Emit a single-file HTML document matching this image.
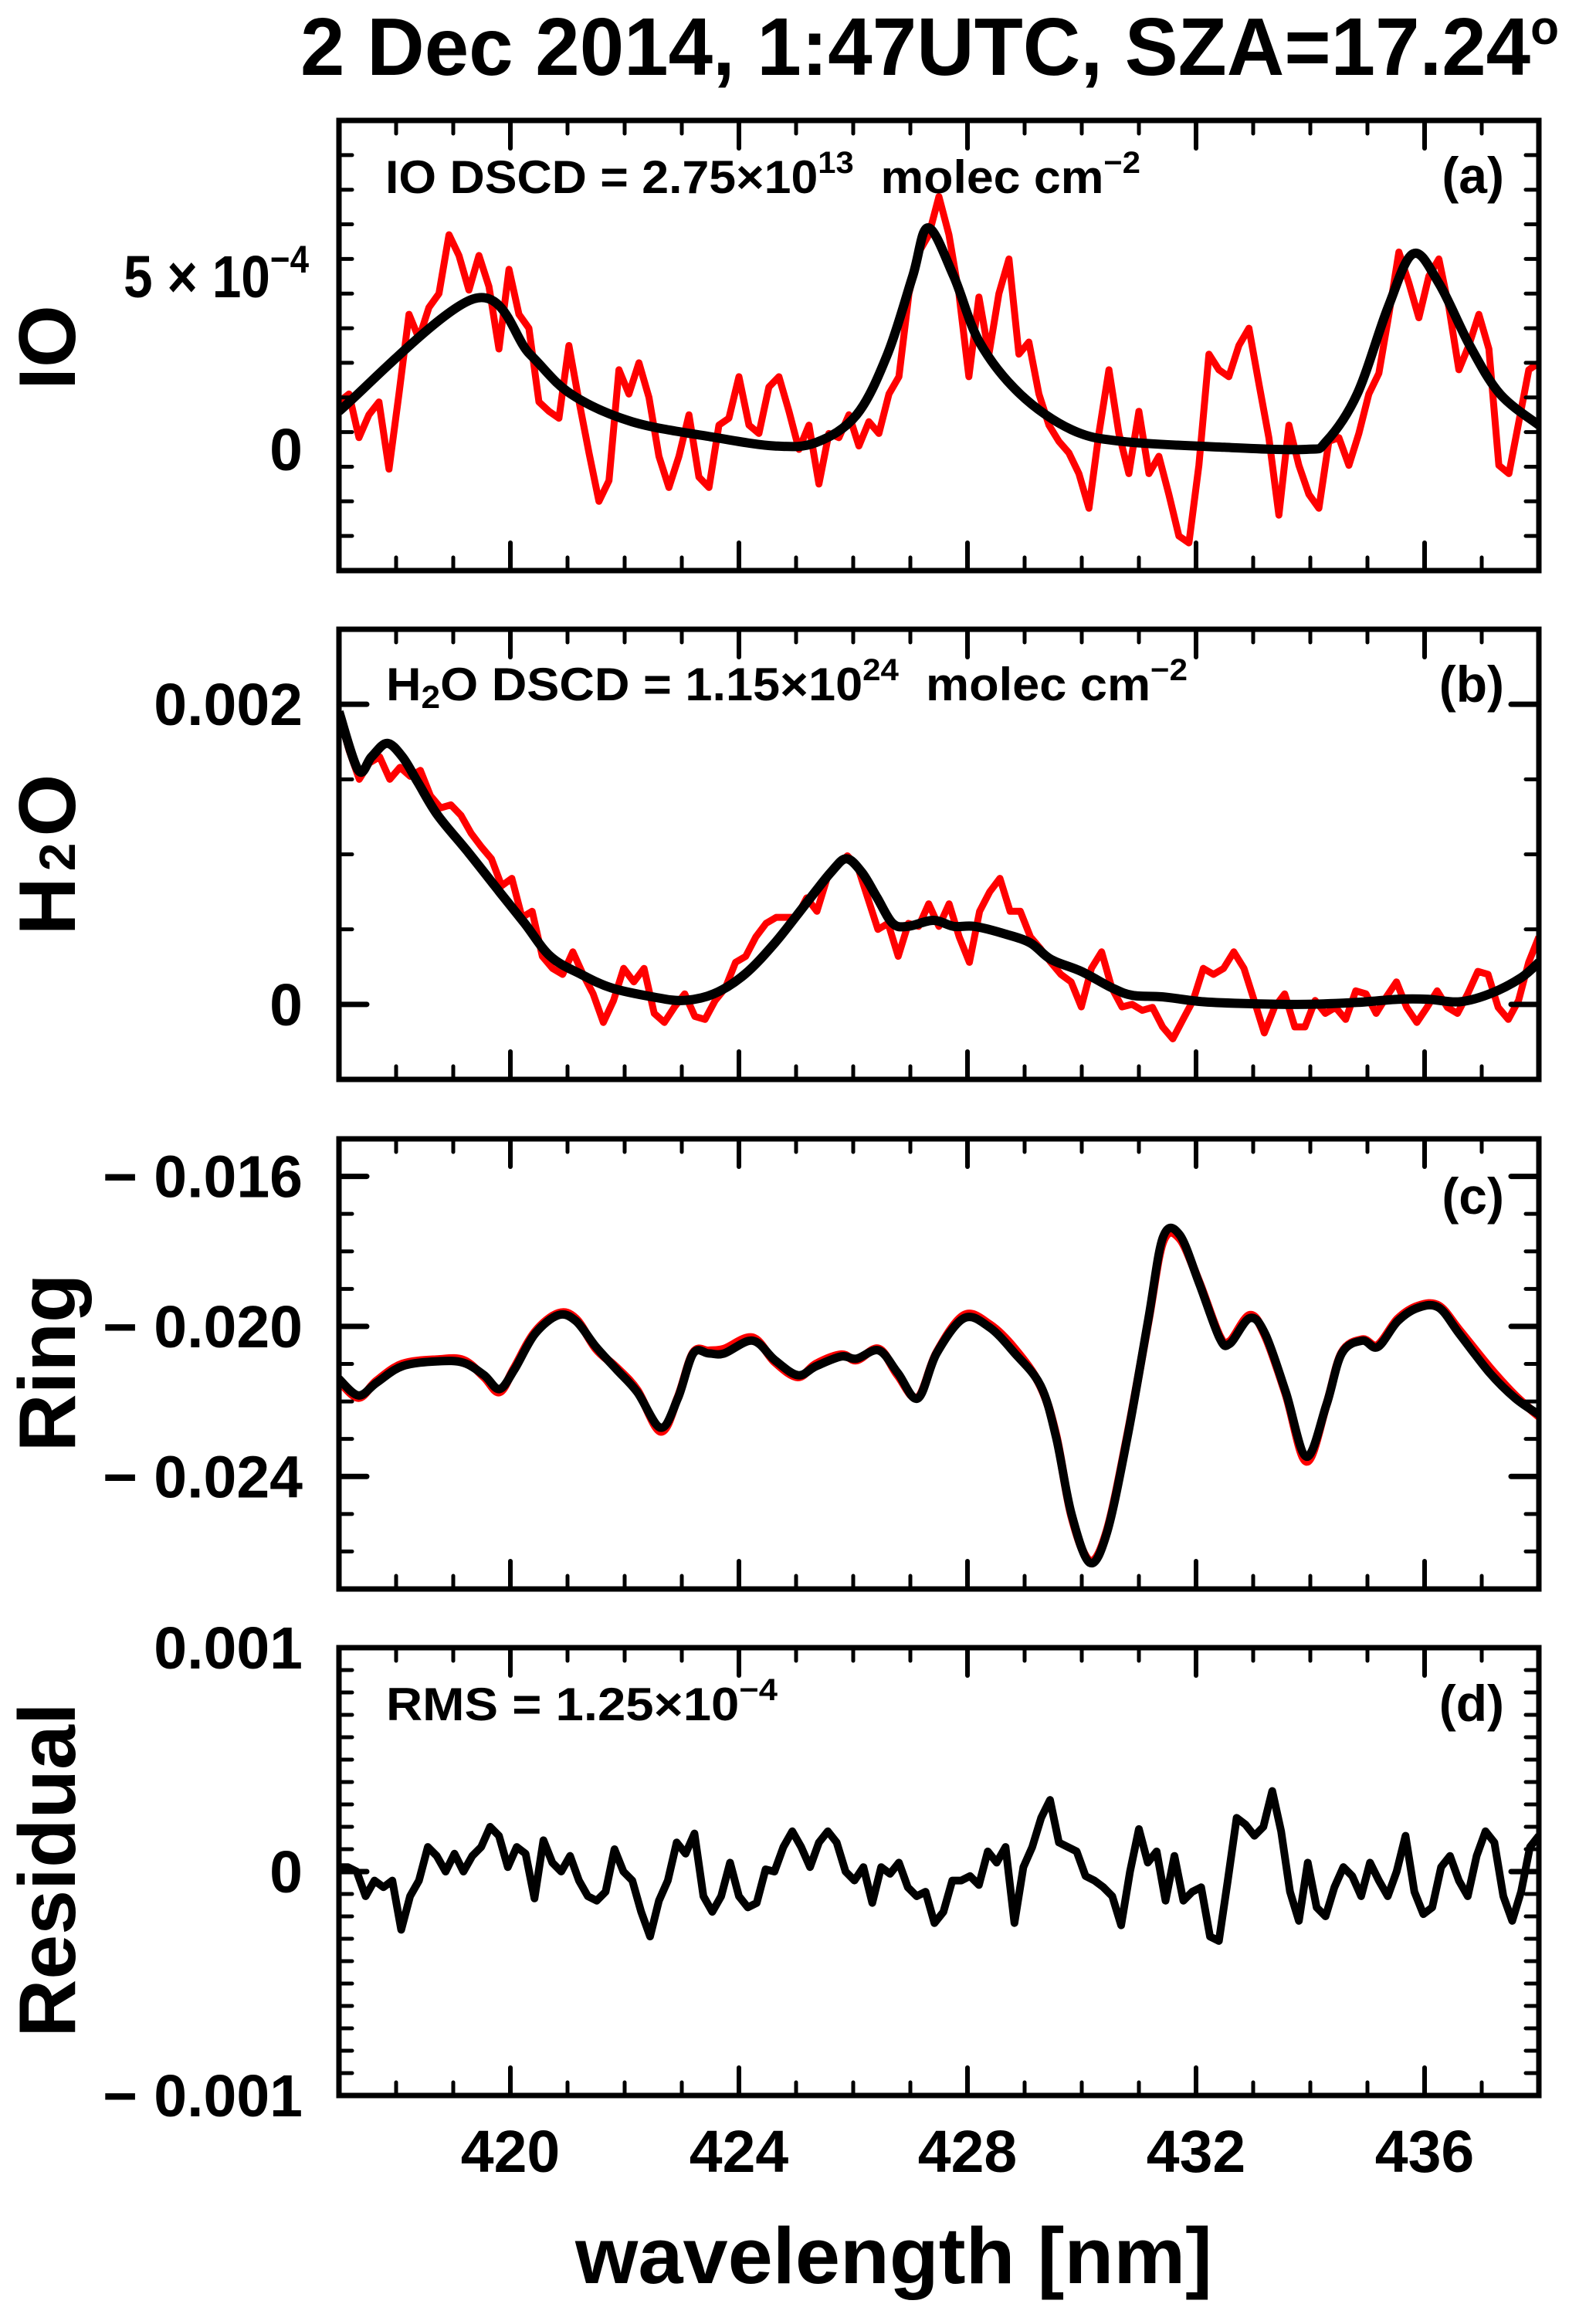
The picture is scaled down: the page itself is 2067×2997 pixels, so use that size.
<!DOCTYPE html>
<html><head><meta charset="utf-8"><title>DOAS fit 2 Dec 2014</title>
<style>
html,body{margin:0;padding:0;background:#fff;}
svg{display:block;font-family:"Liberation Sans",Arial,sans-serif;font-weight:bold;}
</style></head>
<body>
<svg id="chart" xmlns="http://www.w3.org/2000/svg" width="2067" height="2997" viewBox="0 0 2067 2997">
<rect x="0" y="0" width="2067" height="2997" fill="#fff"/>
<text x="389" y="97" font-size="106" textLength="1630" lengthAdjust="spacingAndGlyphs">2 Dec 2014, 1:47UTC, SZA=17.24<tspan font-size="62" dy="-40">o</tspan></text>
<g id="plots"></g>
<text x="745" y="2957" font-size="103" textLength="825" lengthAdjust="spacingAndGlyphs">wavelength [nm]</text>
</svg>
<script>
// ---------- data (wavelength grid in nm) ----------
const xTicksMajor = [420, 424, 428, 432, 436];
const xTickLabels = ["420", "424", "428", "432", "436"];

// Panel (a) IO, values in units of 1e-4
const ioRedStart = 417, ioRedEnd = 438;
const ioRed = [1.37,1.6,0.34,1.0,1.37,-0.57,1.6,3.9,3.2,4.1,4.5,6.2,5.6,4.6,5.6,4.7,2.9,5.2,3.9,3.5,1.37,1.1,0.9,3.0,1.4,-0.1,-1.5,-0.9,2.3,1.6,2.5,1.5,-0.2,-1.1,-0.2,1.0,-0.8,-1.1,0.7,0.9,2.1,0.7,0.46,1.8,2.1,1.1,0,0.7,-1.0,0.46,0.34,1.0,0.1,0.8,0.46,1.6,2.1,4.5,5.7,6.2,7.3,6.2,4.5,2.1,4.4,2.75,4.5,5.5,2.75,3.1,1.6,0.7,0.23,-0.1,-0.7,-1.7,0.46,2.3,0.46,-0.7,1.1,-0.7,-0.2,-1.3,-2.5,-2.7,-0.46,2.75,2.3,2.1,3.0,3.5,1.9,0.34,-1.9,0.7,-0.46,-1.3,-1.7,0.23,0.34,-0.46,0.46,1.6,2.2,3.9,5.7,4.8,3.8,5.0,5.5,4.1,2.3,3.0,3.9,2.9,-0.46,-0.7,0.8,2.3,2.5];
const ioFitWl = [417,419.36,420.34,421.06,422.13,423.56,424.63,425.35,426.06,426.6,427.04,427.31,427.76,428.21,428.92,429.82,430.71,432.5,433.93,434.28,434.82,435.36,435.8,436.25,436.79,437.32,438];
const ioFit = [1.1,4.35,2.75,1.6,0.8,0.35,0.1,0.2,1.0,2.75,5.0,6.4,5.0,3.1,1.6,0.57,0.23,0.06,0,0.23,1.6,4.1,5.65,4.8,3.0,1.6,0.7];

// Panel (b) H2O, values in units of 1e-4
const h2oRedStart = 417, h2oRedEnd = 438;
const h2oRed = [19.3,16.9,15,16.1,16.5,15,15.8,15.2,15.6,13.9,13.1,13.3,12.6,11.4,10.5,9.7,7.9,8.4,5.8,6.2,3.2,2.4,2.0,3.5,2.0,0.7,-1.2,0.26,2.4,1.5,2.4,-0.6,-1.2,-0.17,0.7,-0.8,-1.0,0.26,1.1,2.8,3.2,4.5,5.4,5.8,5.8,5.8,7.1,6.2,8.4,9.2,9.9,9.2,7.1,5.0,5.4,3.2,5.4,5.2,6.7,5.2,6.7,4.5,2.8,6.2,7.5,8.4,6.2,6.2,4.5,3.7,2.8,2.0,1.5,-0.17,2.4,3.5,1.1,-0.17,0,-0.4,-0.2,-1.5,-2.3,-1.0,0.26,2.4,2.0,2.4,3.5,2.4,0.26,-1.9,-0.2,0.7,-1.5,-1.5,0.26,-0.6,-0.2,-1.0,0.9,0.7,-0.6,0.5,1.5,-0.2,-1.2,-0.2,0.9,-0.2,-0.6,0.7,2.2,2.0,-0.2,-1.0,0.26,2.8,4.5];
const h2oFitWl = [417,417.34,417.57,417.84,418.11,418.38,418.73,419.27,419.81,420.25,420.7,421.24,421.77,422.49,423.02,423.56,424.1,424.63,425.17,425.61,425.88,426.15,426.42,426.69,426.96,427.4,427.76,428.12,428.65,429.1,429.46,429.99,430.53,430.89,431.42,432.14,433.03,433.93,434.82,435.53,436.07,436.61,437.14,437.68,438];
const h2oFit = [19.5,15.6,16.5,17.4,16.5,14.8,12.6,10.1,7.5,5.4,3.2,2.0,1.1,0.5,0.26,0.7,2.0,4.1,6.7,8.8,9.7,8.8,7.1,5.4,5.2,5.6,5.2,5.2,4.7,4.1,3.0,2.2,1.1,0.6,0.5,0.17,0.04,0,0.13,0.34,0.34,0.17,0.7,1.75,2.8];

// Panel (c) Ring, values in units of 1e-3
const ringWl = [417,417.34,417.66,418.11,418.73,419.18,419.54,419.81,420.07,420.43,420.84,421.15,421.5,421.86,422.22,422.63,422.93,423.2,423.47,423.74,424.24,424.63,425.03,425.35,425.79,426.06,426.45,426.78,427.13,427.46,427.94,428.39,428.83,429.28,429.55,429.82,430.14,430.44,430.8,431.16,431.42,431.71,432.05,432.41,432.59,432.94,433.21,433.57,433.93,434.28,434.55,434.91,435.18,435.53,435.89,436.25,436.61,437.14,437.59,438];
const ringFit = [-21.4,-21.84,-21.5,-21.06,-20.93,-20.97,-21.3,-21.67,-21.15,-20.2,-19.7,-19.86,-20.55,-21.15,-21.75,-22.7,-21.92,-20.72,-20.72,-20.72,-20.38,-20.9,-21.3,-21.06,-20.8,-20.86,-20.64,-21.24,-21.92,-20.72,-19.78,-20.03,-20.72,-21.58,-22.95,-25.0,-26.3,-25.5,-22.95,-19.86,-17.63,-17.55,-18.83,-20.3,-20.46,-19.78,-20.2,-21.75,-23.47,-22.1,-20.72,-20.38,-20.55,-19.86,-19.5,-19.5,-20.2,-21.24,-21.92,-22.35];
const ringMeas = [-21.45,-21.9,-21.45,-21.0,-20.88,-20.9,-21.35,-21.75,-21.1,-20.15,-19.65,-19.8,-20.6,-21.1,-21.7,-22.8,-21.9,-20.7,-20.65,-20.6,-20.3,-20.95,-21.35,-21.0,-20.75,-20.9,-20.6,-21.3,-21.9,-20.7,-19.7,-19.95,-20.6,-21.6,-22.9,-25.05,-26.25,-25.45,-22.9,-19.9,-17.75,-17.65,-18.8,-20.25,-20.4,-19.7,-20.25,-21.8,-23.6,-22.1,-20.7,-20.35,-20.5,-19.8,-19.45,-19.45,-20.1,-21.1,-21.85,-22.4];

// Panel (d) Residual, values in units of 1e-4
const resStart = 417, resEnd = 438;
const residual = [0.2,0.2,0,-1.1,-0.4,-0.7,-0.4,-2.6,-1.1,-0.4,1.1,0.7,0,0.8,0,0.7,1.1,2.0,1.6,0.2,1.1,0.8,-1.2,1.4,0.4,0,0.7,-0.4,-1.1,-1.3,-0.9,1.0,0,-0.4,-1.8,-2.9,-1.3,-0.4,1.3,0.8,1.7,-1.1,-1.8,-1.1,0.4,-1.1,-1.6,-1.4,0.1,0,1.1,1.8,1.1,0.2,1.3,1.8,1.3,0,-0.4,0.2,-1.4,0.2,-0.1,0.4,-0.7,-1.1,-0.9,-2.3,-1.8,-0.4,-0.4,-0.2,-0.6,0.9,0.4,1.1,-2.3,0.2,1.1,2.4,3.2,1.3,1.1,0.9,-0.2,-0.4,-0.7,-1.1,-2.4,0,1.9,0.4,0.9,-1.3,0.7,-1.3,-0.9,-0.7,-2.9,-3.1,-0.4,2.4,2.1,1.6,2.0,3.6,1.8,-0.9,-2.2,0.4,-1.6,-2.0,-0.7,0.2,-0.2,-1.1,0.4,-0.4,-1.1,0,1.6,-0.9,-1.9,-1.6,0.2,0.7,-0.4,-1.1,0.7,1.8,1.3,-1.1,-2.2,-0.9,1.1,1.6];

const panelLetters = ["(a)", "(b)", "(c)", "(d)"];

// ---------- layout ----------
const NS = "http://www.w3.org/2000/svg";
const plots = document.getElementById("plots");
const X0 = 439, X1 = 1993, WMIN = 417, WMAX = 438;
function xScale(w){ return X0 + (w - WMIN) / (WMAX - WMIN) * (X1 - X0); }
function mk(tag, attrs, parent){
  const e = document.createElementNS(NS, tag);
  for (const k in attrs) e.setAttribute(k, attrs[k]);
  (parent || plots).appendChild(e);
  return e;
}
function gridWl(start, end, n){ const a=[]; for(let i=0;i<n;i++) a.push(start + i*(end-start)/(n-1)); return a; }
function linePath(xs, ys){
  let d=""; for(let i=0;i<xs.length;i++) d += (i?"L":"M") + xs[i].toFixed(1) + "," + ys[i].toFixed(1);
  return d;
}
function smoothPath(xs, ys){
  let d = "M" + xs[0].toFixed(1) + "," + ys[0].toFixed(1);
  for (let i=0;i<xs.length-1;i++){
    const x0 = xs[Math.max(i-1,0)], y0 = ys[Math.max(i-1,0)];
    const x1 = xs[i], y1 = ys[i], x2 = xs[i+1], y2 = ys[i+1];
    const x3 = xs[Math.min(i+2,xs.length-1)], y3 = ys[Math.min(i+2,xs.length-1)];
    const c1x = x1 + (x2-x0)/6, c1y = y1 + (y2-y0)/6;
    const c2x = x2 - (x3-x1)/6, c2y = y2 - (y3-y1)/6;
    d += "C"+c1x.toFixed(1)+","+c1y.toFixed(1)+" "+c2x.toFixed(1)+","+c2y.toFixed(1)+" "+x2.toFixed(1)+","+y2.toFixed(1);
  }
  return d;
}

const panels = [
  {key:"io", top:156, bot:739, ymin:-3.5e-4, ymax:9.5e-4, minor:1e-4, majors:[0,5e-4], title:"IO", titleY:450},
  {key:"h2o", top:815, bot:1398, ymin:-5e-4, ymax:2.5e-3, minor:5e-4, majors:[0,0.002], title:"H2O", titleY:1107},
  {key:"ring", top:1475, bot:2058, ymin:-0.027, ymax:-0.015, minor:0.001, majors:[-0.016,-0.020,-0.024], title:"Ring", titleY:1765},
  {key:"residual", top:2134, bot:2714, ymin:-0.001, ymax:0.001, minor:1e-4, majors:[-0.001,0,0.001], title:"Residual", titleY:2422}
];

panels.forEach(function(p, pi){
  const g = mk("g", {});
  
  
  const ys = function(v){ return p.bot - (v - p.ymin)/(p.ymax - p.ymin)*(p.bot - p.top); };

  const cp = mk("clipPath", {id:"clip"+pi}, g);
  mk("rect", {x:X0, y:p.top, width:X1-X0, height:p.bot-p.top}, cp);
  const dg = mk("g", {"clip-path":"url(#clip"+pi+")"}, g);

  if (p.key === "io"){
    const wl = gridWl(ioRedStart, ioRedEnd, ioRed.length);
    const r = mk("path", {d:linePath(wl.map(xScale), ioRed.map(v=>ys(v*1e-4))), fill:"none", stroke:"#ff0000", "stroke-width":9, "stroke-linejoin":"round"}, dg);
    
    
    const b = mk("path", {d:smoothPath(ioFitWl.map(xScale), ioFit.map(v=>ys(v*1e-4))), fill:"none", stroke:"#000", "stroke-width":12, "stroke-linejoin":"round"}, dg);
    
    
  } else if (p.key === "h2o"){
    const wl = gridWl(h2oRedStart, h2oRedEnd, h2oRed.length);
    const r = mk("path", {d:linePath(wl.map(xScale), h2oRed.map(v=>ys(v*1e-4))), fill:"none", stroke:"#ff0000", "stroke-width":9, "stroke-linejoin":"round"}, dg);
    
    
    const b = mk("path", {d:smoothPath(h2oFitWl.map(xScale), h2oFit.map(v=>ys(v*1e-4))), fill:"none", stroke:"#000", "stroke-width":12, "stroke-linejoin":"round"}, dg);
    
    
  } else if (p.key === "ring"){
    const r = mk("path", {d:smoothPath(ringWl.map(xScale), ringMeas.map(v=>ys(v*1e-3))), fill:"none", stroke:"#ff0000", "stroke-width":11, "stroke-linejoin":"round"}, dg);
    
    
    const b = mk("path", {d:smoothPath(ringWl.map(xScale), ringFit.map(v=>ys(v*1e-3))), fill:"none", stroke:"#000", "stroke-width":11, "stroke-linejoin":"round"}, dg);
    
    
  } else {
    const wl = gridWl(resStart, resEnd, residual.length);
    const b = mk("path", {d:linePath(wl.map(xScale), residual.map(v=>ys(v*1e-4))), fill:"none", stroke:"#000", "stroke-width":10, "stroke-linejoin":"round"}, dg);
    
    
  }

  for (let w = 418; w <= 437; w++){
    const isMaj = xTicksMajor.indexOf(w) >= 0;
    const L = isMaj ? 36 : 17, xx = xScale(w);
    mk("line", {x1:xx, x2:xx, y1:p.top, y2:p.top+L, stroke:"#000", "stroke-width":isMaj?6:5, "stroke-linecap":"round"}, g);
    mk("line", {x1:xx, x2:xx, y1:p.bot, y2:p.bot-L, stroke:"#000", "stroke-width":isMaj?6:5, "stroke-linecap":"round"}, g);
  }
  const nMin = Math.round((p.ymax - p.ymin)/p.minor);
  for (let i=1;i<nMin;i++){
    const v = p.ymin + i*p.minor;
    const isMaj = p.majors.some(m=>Math.abs(m-v) < p.minor*0.01);
    const L = isMaj ? 36 : 17, yy = ys(v);
    mk("line", {x1:X0, x2:X0+L, y1:yy, y2:yy, stroke:"#000", "stroke-width":isMaj?7:5, "stroke-linecap":"round"}, g);
    mk("line", {x1:X1, x2:X1-L, y1:yy, y2:yy, stroke:"#000", "stroke-width":isMaj?7:5, "stroke-linecap":"round"}, g);
  }
  const fr = mk("rect", {x:X0, y:p.top, width:X1-X0, height:p.bot-p.top, fill:"none", stroke:"#000", "stroke-width":7}, g);
  
  

  p.majors.forEach(function(m){
    const t = mk("text", {x:392, y:ys(m)+27, "font-size":77, "text-anchor":"end"}, g);
    
    
    if (p.key === "io" && m !== 0){
      t.setAttribute("text-anchor", "start");
      t.setAttribute("x", 160);
      t.setAttribute("textLength", 240);
      t.setAttribute("lengthAdjust", "spacingAndGlyphs");
      t.textContent = "5 \u00d7 10";
      const s = mk("tspan", {"font-size":50, dy:-32}, t); s.textContent = "\u22124";
    } else {
      let s;
      if (m === 0) s = "0";
      else if (m < 0) s = "\u2212 " + Math.abs(m).toFixed(3);
      else s = m.toFixed(3);
      t.textContent = s;
    }
  });

  const yt = mk("text", {transform:"translate(97," + p.titleY + ") rotate(-90)", "font-size":104, "text-anchor":"middle"}, g);
  
  
  if (p.key === "h2o"){
    yt.appendChild(document.createTextNode("H"));
    const s = mk("tspan", {"font-size":66, dy:0, dx:8}, yt); s.textContent = "2";
    const o = mk("tspan", {dx:8}, yt); o.textContent = "O";
  } else yt.textContent = p.title;

  const pl = mk("text", {x:1948, y:p.key==="io"?250:(p.key==="h2o"?909:(p.key==="ring"?1572:2229)), "font-size":66, "text-anchor":"end"}, g);
  
  
  pl.textContent = panelLetters[pi];
});

(function(){
  const a = mk("text", {x:499, y:250, "font-size":60, textLength:978, lengthAdjust:"spacingAndGlyphs"});
  
  
  a.appendChild(document.createTextNode("IO DSCD = 2.75\u00d710"));
  let s = mk("tspan", {"font-size":40, dy:-26}, a); s.textContent = "13";
  s = mk("tspan", {dy:26}, a); s.textContent = "\u00a0 molec cm";
  s = mk("tspan", {"font-size":40, dy:-26}, a); s.textContent = "\u22122";

  const b = mk("text", {x:500, y:907, "font-size":60, textLength:1038, lengthAdjust:"spacingAndGlyphs"});
  
  
  b.appendChild(document.createTextNode("H"));
  s = mk("tspan", {"font-size":42, dy:10}, b); s.textContent = "2";
  s = mk("tspan", {dy:-10}, b); s.textContent = "O DSCD = 1.15\u00d710";
  s = mk("tspan", {"font-size":40, dy:-26}, b); s.textContent = "24";
  s = mk("tspan", {dy:26}, b); s.textContent = "\u00a0 molec cm";
  s = mk("tspan", {"font-size":40, dy:-26}, b); s.textContent = "\u22122";

  const c = mk("text", {x:500, y:2228, "font-size":60, textLength:507, lengthAdjust:"spacingAndGlyphs"});
  
  
  c.appendChild(document.createTextNode("RMS = 1.25\u00d710"));
  s = mk("tspan", {"font-size":40, dy:-26}, c); s.textContent = "\u22124";

  xTicksMajor.forEach(function(w, i){
    const t = mk("text", {x:xScale(w), y:2813, "font-size":77, "text-anchor":"middle"});
    
    
    t.textContent = xTickLabels[i];
  });
})();
</script>
</body></html>
